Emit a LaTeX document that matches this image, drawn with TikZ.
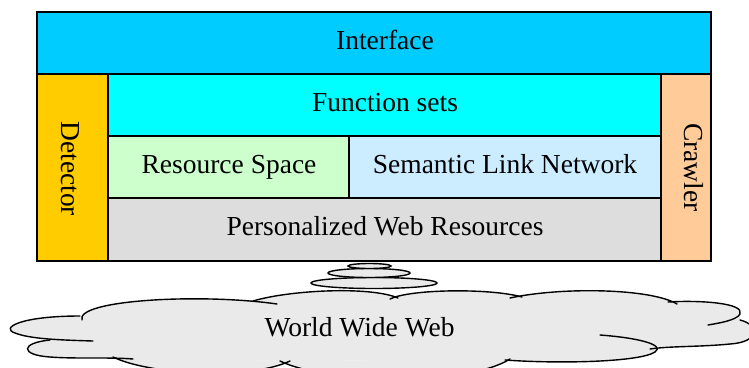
\documentclass[tikz,border=0pt]{standalone}
\usepackage{fontspec}
\setmainfont{Liberation Serif}
\definecolor{interfacec}{HTML}{00CCFF}
\definecolor{funcc}{HTML}{00FFFF}
\definecolor{resc}{HTML}{CCFFCC}
\definecolor{semc}{HTML}{CCECFF}
\definecolor{persc}{HTML}{DDDDDD}
\definecolor{detc}{HTML}{FFCC00}
\definecolor{crwc}{HTML}{FFCC99}
\definecolor{cloudc}{HTML}{EAEAEA}
\begin{document}
\begin{tikzpicture}[x=1pt,y=-1pt,
  boxline/.style={draw=black,line width=1.8pt},
  lbl/.style={anchor=base,inner sep=0pt,font=\fontsize{27.5}{30}\selectfont},
  cloudline/.style={draw=black,line width=1.4pt,line cap=round},
  cloudfill/.style={fill=cloudc,draw=none}]
\useasboundingbox (0,0) rectangle (749,367);

% layered boxes
\path[boxline,fill=interfacec] (37,12) rectangle (711,74);
\path[boxline,fill=detc] (37,74) rectangle (108,261);
\path[boxline,fill=crwc] (661,74) rectangle (711,261);
\path[boxline,fill=funcc] (108,74) rectangle (661,136);
\path[boxline,fill=resc] (108,136) rectangle (349,198);
\path[boxline,fill=semc] (349,136) rectangle (661,198);
\path[boxline,fill=persc] (108,198) rectangle (661,261);

\node[lbl] (interface) at (385,49) {Interface};
\node[lbl] (funcs) at (385,111) {Function sets};
\node[lbl] (rs) at (229,173.3) {Resource Space};
\node[lbl] (sln) at (505,173) {Semantic Link Network};
\node[lbl] (pwr) at (385,235.7) {Personalized Web Resources};
\node[lbl,rotate=-90] (det) at (61.5,168.7) {Detector};
\node[lbl,rotate=-90] (crw) at (684,167.5) {Crawler};

% thought bubbles
\path[cloudline,fill=cloudc] (374,283) ellipse [x radius=63,y radius=5.5];
\path[cloudline,fill=cloudc] (369,273) ellipse [x radius=41,y radius=4.5];
\path[cloudline,fill=cloudc] (369.5,266) ellipse [x radius=21.5,y radius=2.5];

% cloud
\def\lobeA{(82,320) .. controls (75,300) and (200,293) .. (277,304)}
\def\lobeB{(253,301) .. controls (290,290) and (370,286) .. (398,298)}
\def\lobeC{(390,299) .. controls (410,289) and (490,288) .. (522,297)}
\def\lobeD{(510,298) .. controls (560,287) and (650,288) .. (677,304)}
\def\lobeE{(668,302) .. controls (700,300) and (745,303) .. (740,314) .. controls (737,320) and (720,323) .. (708,325)}
\def\lobeF{(740,320) .. controls (760,325) and (760,342) .. (730,344) .. controls (700,347) and (670,346) .. (650,349)}
\def\lobeG{(600,335) .. controls (640,338) and (665,345) .. (655,352) .. controls (640,362) and (560,364) .. (505,360)}
\def\lobeH{(280,361) .. controls (330,385) and (470,385) .. (510,359)}
\def\lobeI{(113,357) .. controls (150,375) and (250,380) .. (290,361)}
\def\lobeJ{(50,340) .. controls (20,343) and (20,355) .. (50,357) .. controls (75,359) and (110,357) .. (133,359)}
\def\lobeK{(80,316) .. controls (20,316) and (0,328) .. (15,333) .. controls (30,339) and (60,340) .. (93,341)}
\foreach \l in {\lobeA,\lobeB,\lobeC,\lobeD,\lobeE,\lobeF,\lobeG,\lobeH,\lobeI,\lobeJ,\lobeK}{
  \fill[cloudfill] \l -- cycle;
}
\fill[cloudfill] (82,318) -- (258,300) -- (395,298) -- (515,297) -- (673,303)
  -- (740,316) -- (740,322) -- (655,349) -- (507,360) -- (285,361)
  -- (113,358) -- (50,340) -- (60,335) -- cycle;
\foreach \l in {\lobeA,\lobeB,\lobeC,\lobeD,\lobeE,\lobeF,\lobeG,\lobeH,\lobeI,\lobeJ,\lobeK}{
  \draw[cloudline] \l;
}
\node[lbl] (www) at (359.5,336.7) {World Wide Web};
\end{tikzpicture}
\end{document}
